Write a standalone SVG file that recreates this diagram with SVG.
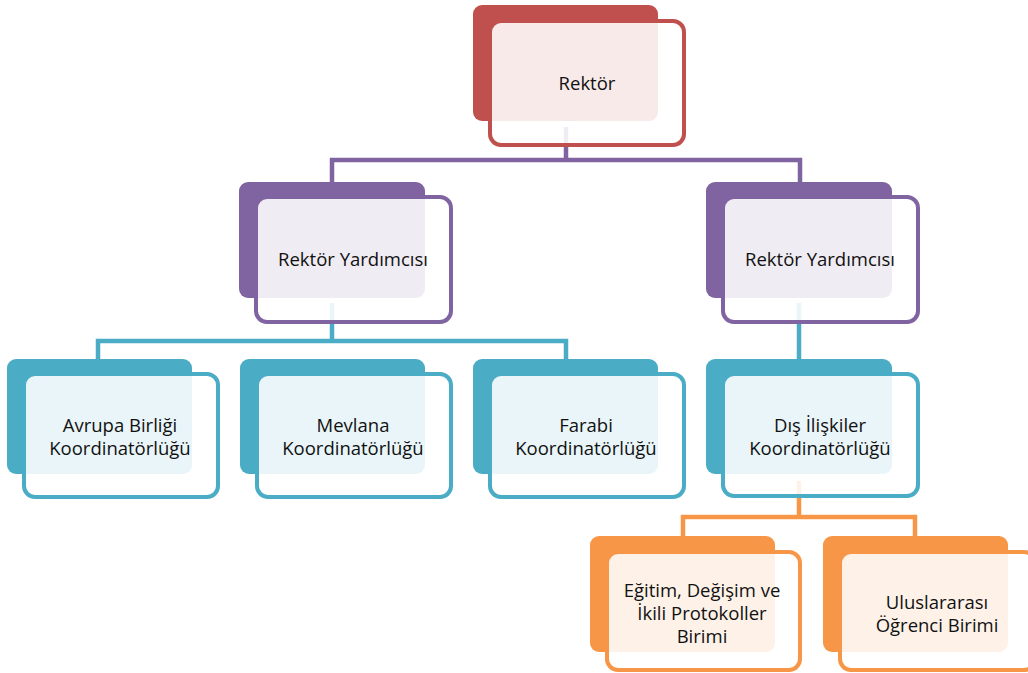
<svg xmlns="http://www.w3.org/2000/svg" width="1028" height="673" viewBox="0 0 1028 673">
<style>
.t{font-family:"Open Sans","Noto Sans","DejaVu Sans",sans-serif;font-size:18.5px;fill:#111;text-anchor:middle}
.f{fill:#fff;fill-opacity:0.88;stroke-width:4}
.c{fill:none;stroke-width:4.5}
.red .b{fill:#C0504D}.red .f{stroke:#C0504D}
.pur .b{fill:#8064A2}.pur .f{stroke:#8064A2}
.teal .b{fill:#4BACC6}.teal .f{stroke:#4BACC6}
.org .b{fill:#F79646}.org .f{stroke:#F79646}
</style>
<rect width="1028" height="673" fill="#fff"/>
<g id="connectors">
<path class="c" stroke="#8064A2" d="M566 127V160M332 185V160H800V185"/>
<path class="c" stroke="#4BACC6" d="M332 303V341M98 361V341H566V361M799 303V361"/>
<path class="c" stroke="#F79646" d="M799 481V517M683 538V517H915V538"/>
</g>
<g id="n-rektor" class="red">
<rect class="b" x="473" y="5" width="185" height="116" rx="9"/>
<rect class="f" x="490" y="21" width="194" height="124" rx="11"/>
<text class="t" x="587" y="90">Rektör</text>
</g>
<g id="n-ry1" class="pur">
<rect class="b" x="239" y="182" width="186" height="116" rx="9"/>
<rect class="f" x="256" y="197" width="195" height="125" rx="11"/>
<text class="t" x="353" y="266">Rektör Yardımcısı</text>
</g>
<g id="n-ry2" class="pur">
<rect class="b" x="706" y="182" width="186" height="116" rx="9"/>
<rect class="f" x="723" y="197" width="195" height="125" rx="11"/>
<text class="t" x="820" y="266">Rektör Yardımcısı</text>
</g>
<g id="n-avrupa" class="teal">
<rect class="b" x="7" y="359" width="185" height="115" rx="9"/>
<rect class="f" x="24" y="374" width="194" height="123" rx="11"/>
<text class="t" x="120" y="432">Avrupa Birliği</text>
<text class="t" x="120" y="455">Koordinatörlüğü</text>
</g>
<g id="n-mevlana" class="teal">
<rect class="b" x="240" y="359" width="185" height="115" rx="9"/>
<rect class="f" x="257" y="374" width="194" height="123" rx="11"/>
<text class="t" x="353" y="432">Mevlana</text>
<text class="t" x="353" y="455">Koordinatörlüğü</text>
</g>
<g id="n-farabi" class="teal">
<rect class="b" x="473" y="359" width="185" height="115" rx="9"/>
<rect class="f" x="490" y="374" width="194" height="123" rx="11"/>
<text class="t" x="586" y="432">Farabi</text>
<text class="t" x="586" y="455">Koordinatörlüğü</text>
</g>
<g id="n-dis" class="teal">
<rect class="b" x="706" y="359" width="186" height="115" rx="9"/>
<rect class="f" x="723" y="374" width="195" height="122" rx="11"/>
<text class="t" x="820" y="432">Dış İlişkiler</text>
<text class="t" x="820" y="455">Koordinatörlüğü</text>
</g>
<g id="n-egitim" class="org">
<rect class="b" x="590" y="536" width="185" height="116" rx="9"/>
<rect class="f" x="607" y="552" width="193" height="118" rx="11"/>
<text class="t" x="702" y="597">Eğitim, Değişim ve</text>
<text class="t" x="702" y="620">İkili Protokoller</text>
<text class="t" x="702" y="643">Birimi</text>
</g>
<g id="n-ulus" class="org">
<rect class="b" x="823" y="536" width="185" height="116" rx="9"/>
<rect class="f" x="840" y="552" width="195" height="118" rx="11"/>
<text class="t" x="937" y="609">Uluslararası</text>
<text class="t" x="937" y="632">Öğrenci Birimi</text>
</g>
</svg>
